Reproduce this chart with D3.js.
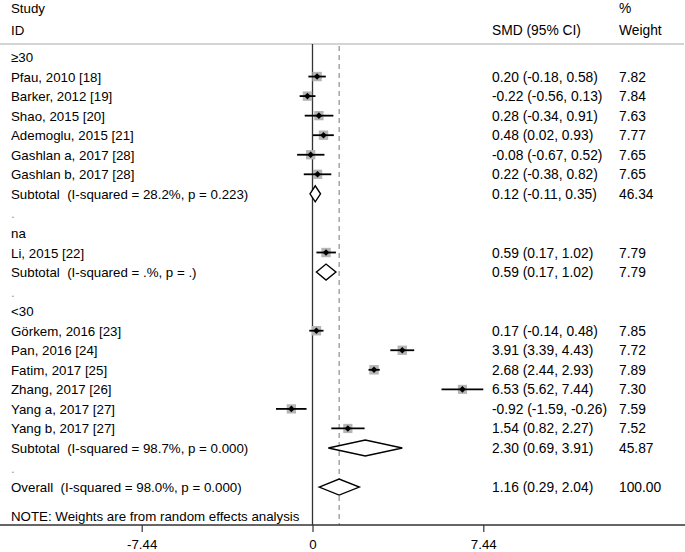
<!DOCTYPE html>
<html>
<head>
<meta charset="utf-8">
<script src="https://cdn.jsdelivr.net/npm/d3@7"></script>
<style>
  html, body { margin: 0; padding: 0; background: #fff; }
  svg text { font-family: "Liberation Sans", Arial, sans-serif; font-size: 13.3px; white-space: pre; }
  svg text.rc { font-size: 13.8px; }
</style>
</head>
<body>
<svg id="chart" width="685" height="552"></svg>
<script>
// ---- data ----
const groupLabels = ["≥30", "na", "<30"];
const studyLabels = [
  "Pfau, 2010 [18]", "Barker, 2012 [19]", "Shao, 2015 [20]", "Ademoglu, 2015 [21]",
  "Gashlan a, 2017 [28]", "Gashlan b, 2017 [28]",
  "Li, 2015 [22]",
  "Görkem, 2016 [23]", "Pan, 2016 [24]", "Fatim, 2017 [25]", "Zhang, 2017 [26]",
  "Yang a, 2017 [27]", "Yang b, 2017 [27]"
];
const studyGroup = [0, 0, 0, 0, 0, 0, 1, 2, 2, 2, 2, 2, 2];
const smd    = [0.20, -0.22, 0.28, 0.48, -0.08, 0.22, 0.59, 0.17, 3.91, 2.68, 6.53, -0.92, 1.54];
const lower  = [-0.18, -0.56, -0.34, 0.02, -0.67, -0.38, 0.17, -0.14, 3.39, 2.44, 5.62, -1.59, 0.82];
const upper  = [0.58, 0.13, 0.91, 0.93, 0.52, 0.82, 1.02, 0.48, 4.43, 2.93, 7.44, -0.26, 2.27];
const weight = [7.82, 7.84, 7.63, 7.77, 7.65, 7.65, 7.79, 7.85, 7.72, 7.89, 7.30, 7.59, 7.52];
const subLabels = [
  "Subtotal  (I-squared = 28.2%, p = 0.223)",
  "Subtotal  (I-squared = .%, p = .)",
  "Subtotal  (I-squared = 98.7%, p = 0.000)"
];
const subSmd    = [0.12, 0.59, 2.30];
const subLower  = [-0.11, 0.17, 0.69];
const subUpper  = [0.35, 1.02, 3.91];
const subWeight = ["46.34", "7.79", "45.87"];
const overallLabel = "Overall  (I-squared = 98.0%, p = 0.000)";
const overall = { smd: 1.16, lo: 0.29, hi: 2.04, w: "100.00" };
const tickValues = [-7.44, 0, 7.44];
const tickLabels = ["-7.44", "0", "7.44"];
const noteText = "NOTE: Weights are from random effects analysis";

// ---- build rows ----
const rows = [];
groupLabels.forEach((g, gi) => {
  rows.push({ type: "group", label: g });
  studyLabels.forEach((s, i) => {
    if (studyGroup[i] === gi) rows.push({ type: "study", label: s, est: smd[i], lo: lower[i], hi: upper[i], w: weight[i] });
  });
  rows.push({ type: "sub", label: subLabels[gi], est: subSmd[gi], lo: subLower[gi], hi: subUpper[gi], wt: subWeight[gi] });
  rows.push({ type: "dot", label: "." });
});
rows.push({ type: "overall", label: overallLabel, est: overall.smd, lo: overall.lo, hi: overall.hi, wt: overall.w });

const svg = d3.select("#chart");
const x = d3.scaleLinear().domain([-7.44, 7.44]).range([141.7, 483.3]);
const y = i => 57 + i * 19.55;
const fmt = v => v.toFixed(2);
const plotTop = 44, plotBottom = 525;
const colSMD = 492, colW = 619;

// header
svg.append("text").attr("x", 11).attr("y", 13).text("Study");
svg.append("text").attr("x", 11).attr("y", 35).text("ID");
svg.append("text").attr("class", "rc").attr("x", colSMD).attr("y", 35).text("SMD (95% CI)");
svg.append("text").attr("class", "rc").attr("x", colW).attr("y", 13).text("%");
svg.append("text").attr("class", "rc").attr("x", colW).attr("y", 35).text("Weight");

// top separator
svg.append("line").attr("x1", 0).attr("x2", 684).attr("y1", plotTop).attr("y2", plotTop)
  .attr("stroke", "#d4d4d4").attr("stroke-width", 2);

// reference lines
svg.append("line").attr("x1", x(0)).attr("x2", x(0)).attr("y1", plotTop).attr("y2", plotBottom)
  .attr("stroke", "#333").attr("stroke-width", 1.3);
svg.append("line").attr("x1", x(overall.smd)).attr("x2", x(overall.smd)).attr("y1", plotTop + 2).attr("y2", plotBottom)
  .attr("stroke", "#777").attr("stroke-width", 1).attr("stroke-dasharray", "5,4");

// rows
rows.forEach((r, i) => {
  const cy = y(i);
  svg.append("text").attr("x", 11).attr("y", cy + 5).style("fill", r.type === "dot" ? "#999" : "#000").text(r.label);
  if (r.type === "study") {
    const s = 9.4 * Math.sqrt(r.w / 7.8);
    svg.append("rect").attr("x", x(r.est) - s / 2).attr("y", cy - s / 2).attr("width", s).attr("height", s)
      .attr("fill", "#b5b5b5");
    svg.append("line").attr("x1", x(r.lo)).attr("x2", x(r.hi)).attr("y1", cy).attr("y2", cy)
      .attr("stroke", "#000").attr("stroke-width", 1.8);
    const d = 3.3;
    svg.append("path")
      .attr("d", `M${x(r.est)},${cy - d}L${x(r.est) + d},${cy}L${x(r.est)},${cy + d}L${x(r.est) - d},${cy}Z`)
      .attr("fill", "#000");
    svg.append("text").attr("class", "rc").attr("x", colSMD).attr("y", cy + 5).text(`${fmt(r.est)} (${fmt(r.lo)}, ${fmt(r.hi)})`);
    svg.append("text").attr("class", "rc").attr("x", colW).attr("y", cy + 5).text(fmt(r.w));
  } else if (r.type === "sub" || r.type === "overall") {
    const h = 8;
    svg.append("path")
      .attr("d", `M${x(r.lo)},${cy}L${x(r.est)},${cy - h}L${x(r.hi)},${cy}L${x(r.est)},${cy + h}Z`)
      .attr("fill", "#fff").attr("stroke", "#000").attr("stroke-width", 1.4);
    svg.append("text").attr("class", "rc").attr("x", colSMD).attr("y", cy + 5).text(`${fmt(r.est)} (${fmt(r.lo)}, ${fmt(r.hi)})`);
    svg.append("text").attr("class", "rc").attr("x", colW).attr("y", cy + 5).text(r.wt);
  }
});

// note
svg.append("text").attr("x", 11).attr("y", 521).text(noteText);

// axis
svg.append("line").attr("x1", 0).attr("x2", 685).attr("y1", plotBottom).attr("y2", plotBottom)
  .attr("stroke", "#333").attr("stroke-width", 1.3);
const axis = d3.axisBottom(x).tickValues(tickValues).tickFormat((d, i) => tickLabels[i]).tickSize(7).tickPadding(8);
const ag = svg.append("g").attr("transform", `translate(0,${plotBottom})`).call(axis);
ag.select(".domain").remove();
ag.selectAll(".tick line").attr("stroke", "#333").attr("stroke-width", 1.2);
ag.selectAll(".tick text").style("font-family", '"Liberation Sans", Arial, sans-serif').style("font-size", "13.3px").style("fill", "#000");
</script>
</body>
</html>
